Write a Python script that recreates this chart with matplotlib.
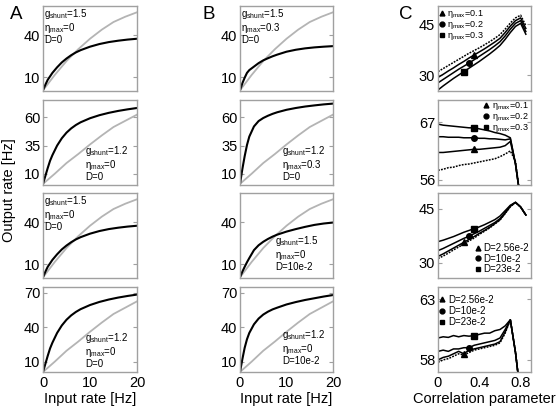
"""
Output rate vs input rate / correlation parameter (panels A, B, C)
"""
import matplotlib
matplotlib.use('Agg')
import matplotlib.pyplot as plt
from matplotlib.lines import Line2D
import numpy as np

plt.rcParams['font.family'] = ['Liberation Sans', 'DejaVu Sans']
plt.rcParams['mathtext.fontset'] = 'custom'
plt.rcParams['mathtext.rm'] = 'Liberation Sans'
plt.rcParams['mathtext.it'] = 'Liberation Sans'
plt.rcParams['mathtext.default'] = 'regular'

# ---- data: panels A and B (output rate vs input rate) ----
x_black = [0, 0.5, 1, 1.5, 2, 3, 4, 5, 6, 7, 8, 10, 12, 14, 16, 18, 20]
x_gray = [0, 2.5, 5, 7.5, 10, 12.5, 15, 17.5, 20]

gray_g15 = [0.5, 11.5, 21.5, 30, 37.5, 44, 49.5, 53.3, 56.5]
gray_g12 = [1, 10, 19.5, 27.5, 36, 44, 51.5, 57, 62.5]

black_g15_eta0_D0 = [0.5, 4.5, 8, 10.5, 13, 17, 20.5, 23.3, 25.7, 27.7, 29.3, 31.8, 33.7, 35.1, 36.1, 36.9, 37.5]
black_g12_eta0_D0 = [1, 8, 15, 21.5, 26.5, 35, 41.5, 46.5, 50.3, 53.3, 55.7, 59.3, 62, 64.1, 65.8, 67.2, 68.4]
black_g15_eta03 = [0.5, 5.5, 9.5, 13, 15, 17.5, 20, 22, 23.5, 24.9, 26.1, 28.2, 29.6, 30.6, 31.3, 31.8, 32.2]
black_g12_eta03 = [1, 14, 25.5, 35.5, 43, 52, 56.8, 59.5, 61.5, 63.2, 64.6, 66.8, 68.4, 69.7, 70.7, 71.6, 72.3]
black_g15_D10 = [0.5, 4.5, 8, 11.3, 14.3, 20, 23.5, 26, 28, 29.7, 31.1, 33.3, 35.1, 36.7, 38.1, 39.1, 39.8]
black_g12_D10 = [1, 12, 22, 29.5, 35, 42.5, 47.5, 51, 53.5, 55.5, 57, 59.8, 61.9, 63.7, 65.2, 66.7, 68]

# ---- data: panel C (output rate vs correlation parameter) ----
corr = [0, 0.05, 0.1, 0.15, 0.2, 0.25, 0.3, 0.35, 0.4, 0.45, 0.5, 0.55, 0.6, 0.65, 0.7, 0.75, 0.8, 0.85]

# C1: eta_max variation (g_shunt=1.5)
c1_eta0 = [31.0, 31.9, 32.8, 33.7, 34.6, 35.5, 36.4, 37.2, 38.0, 38.9, 39.8, 40.8, 41.9, 43.5, 45.3, 46.8, 47.6, 44.5]
c1_eta01 = [29.3, 30.2, 31.2, 32.1, 33.1, 34.0, 35.0, 35.9, 36.8, 37.7, 38.7, 39.7, 40.8, 42.5, 44.4, 46.0, 46.8, 43.7]
c1_eta02 = [27.7, 28.7, 29.7, 30.7, 31.7, 32.6, 33.5, 34.5, 35.5, 36.5, 37.5, 38.6, 39.8, 41.5, 43.5, 45.2, 46.0, 42.8]
c1_eta03 = [25.6, 26.8, 27.9, 29.0, 30.0, 31.0, 32.0, 33.0, 34.0, 35.1, 36.2, 37.4, 38.7, 40.5, 42.5, 44.3, 45.2, 42.0]

# C2: eta_max variation (g_shunt=1.2)
c2_eta0 = [57.8, 58.0, 58.3, 58.4, 58.7, 58.9, 59.0, 59.2, 59.4, 59.6, 59.8, 60.0, 60.4, 60.9, 61.5, 59.5, 52.0, 48.0]
c2_eta01 = [61.2, 61.2, 61.3, 61.4, 61.5, 61.6, 61.7, 61.8, 61.8, 61.9, 62.0, 62.1, 62.2, 62.5, 63.3, 59.0, 52.0, 48.0]
c2_eta02 = [64.2, 64.2, 64.1, 64.1, 64.1, 64.0, 64.0, 64.0, 63.9, 63.9, 63.8, 63.8, 63.7, 63.6, 63.8, 59.0, 52.0, 48.0]
c2_eta03 = [66.6, 66.4, 66.3, 66.2, 66.1, 66.0, 65.9, 65.9, 65.7, 65.5, 65.3, 65.0, 64.8, 64.5, 64.0, 59.0, 52.0, 48.0]

# C3: D variation (g_shunt=1.5)
c3_D0 = [31.2, 31.9, 32.7, 33.6, 34.4, 35.2, 36.1, 36.9, 37.9, 38.8, 39.7, 40.8, 41.9, 43.7, 45.6, 46.8, 45.5, 43.3]
c3_D256 = [31.8, 32.5, 33.3, 34.1, 34.9, 35.7, 36.5, 37.3, 38.2, 39.0, 39.9, 40.9, 42.0, 43.8, 45.7, 46.8, 45.5, 43.3]
c3_D10 = [33.4, 34.0, 34.7, 35.4, 36.1, 36.8, 37.4, 38.1, 38.8, 39.6, 40.4, 41.2, 42.3, 44.0, 45.8, 46.8, 45.5, 43.3]
c3_D23 = [35.9, 36.3, 36.8, 37.3, 37.9, 38.5, 39.0, 39.5, 40.0, 40.6, 41.3, 42.0, 43.0, 44.5, 46.0, 46.8, 45.5, 43.3]

# C4: D variation (g_shunt=1.2)
c4_D0 = [57.8, 58.0, 58.1, 58.3, 58.5, 58.4, 58.6, 58.8, 58.9, 59.0, 59.1, 59.2, 59.4, 60.2, 61.3, 58.6, 55.0, 53.0]
c4_D256 = [58.0, 58.2, 58.3, 58.5, 58.7, 58.5, 58.8, 58.9, 59.0, 59.1, 59.2, 59.3, 59.5, 60.3, 61.3, 58.6, 55.0, 53.0]
c4_D10 = [58.7, 58.8, 58.7, 58.9, 58.9, 59.0, 59.0, 59.2, 59.3, 59.4, 59.5, 59.6, 59.8, 60.5, 61.3, 58.6, 55.0, 53.0]
c4_D23 = [59.8, 59.9, 59.85, 60.0, 59.9, 60.0, 59.95, 60.0, 60.1, 60.2, 60.2, 60.4, 60.5, 60.8, 61.3, 58.6, 55.0, 53.0]

W, H = 559, 408
fig = plt.figure(figsize=(W / 100, H / 100), dpi=100)

col_left = [43, 240, 438]
col_width = [94, 93, 93]
row_top = [6, 100, 193, 287]
row_height = 85

SPINE = '#a0a0a0'


def make_ax(col, row):
    l = col_left[col] / W
    b = 1 - (row_top[row] + row_height) / H
    ax = fig.add_axes([l, b, col_width[col] / W, row_height / H])
    for s in ax.spines.values():
        s.set_color(SPINE)
        s.set_linewidth(1.0)
    ax.tick_params(axis='y', direction='in', length=3, color=SPINE, left=True, right=True,
                   labelsize=10.5, pad=2)
    ax.tick_params(axis='x', length=0, labelsize=10.5, pad=3)
    return ax


def params_text(g, eta, D):
    return '$g_{shunt}$=%s\n$\\eta_{max}$=%s\nD=%s' % (g, eta, D)


# panels A and B
ab_panels = [
    # col, row, black, gray, ylim, yticks, text, text x, text y, va
    (0, 0, black_g15_eta0_D0, gray_g15, (0, 61), [10, 40], ('1.5', '0', '0'), 0.01, 0.99, 'top'),
    (0, 1, black_g12_eta0_D0, gray_g12, (0, 75.5), [10, 35, 60], ('1.2', '0', '0'), 0.45, 0.04, 'bottom'),
    (0, 2, black_g15_eta0_D0, gray_g15, (0, 61), [10, 40], ('1.5', '0', '0'), 0.01, 0.99, 'top'),
    (0, 3, black_g12_eta0_D0, gray_g12, (1, 75), [10, 40, 70], ('1.2', '0', '0'), 0.45, 0.04, 'bottom'),
    (1, 0, black_g15_eta03, gray_g15, (0, 61), [10, 40], ('1.5', '0.3', '0'), 0.01, 0.99, 'top'),
    (1, 1, black_g12_eta03, gray_g12, (0, 75.5), [10, 35, 60], ('1.2', '0.3', '0'), 0.45, 0.04, 'bottom'),
    (1, 2, black_g15_D10, gray_g15, (0, 61), [10, 40], ('1.5', '0', '10e-2'), 0.38, 0.07, 'bottom'),
    (1, 3, black_g12_D10, gray_g12, (1, 75), [10, 40, 70], ('1.2', '0', '10e-2'), 0.45, 0.07, 'bottom'),
]

for col, row, blk, gry, ylim, yt, txt, tx, ty, va in ab_panels:
    ax = make_ax(col, row)
    ax.plot(x_gray, gry, color='#b4b4b4', lw=1.3)
    ax.plot(x_black, blk, color='black', lw=1.5)
    ax.set_xlim(0, 20)
    ax.set_ylim(*ylim)
    ax.set_yticks(yt)
    ax.set_xticks([0, 10, 20])
    if row < 3:
        ax.set_xticklabels([])
    else:
        ax.set_xlabel('Input rate [Hz]', fontsize=10.5, labelpad=1)
    ax.text(tx, ty, params_text(*txt), transform=ax.transAxes, fontsize=7,
            ha='left', va=va, linespacing=1.0)

# panel C: row, series, ylim, yticks, markers (symbol, index into corr), labels, legend loc/anchor/spacing/size
eta_labels = ['$\\eta_{max}$=0.1', '$\\eta_{max}$=0.2', '$\\eta_{max}$=0.3']
D_labels = ['D=2.56e-2', 'D=10e-2', 'D=23e-2']
c_panels = [
    (0, [c1_eta0, c1_eta01, c1_eta02, c1_eta03], (25.3, 50.3), [30, 45],
     [None, ('^', 7), ('o', 6), ('s', 5)], eta_labels, 'upper left', (-0.01, 1.0), -0.1, 6.5),
    (1, [c2_eta0, c2_eta01, c2_eta02, c2_eta03], (55, 71.2), [56, 67],
     [None, ('^', 7), ('o', 7), ('s', 7)], eta_labels, 'upper right', (0.99, 1.02), -0.1, 6.5),
    (2, [c3_D0, c3_D256, c3_D10, c3_D23], (25.8, 49.4), [30, 45],
     [None, ('^', 5), ('o', 6), ('s', 7)], D_labels, 'lower right', (1.0, 0.02), 0.05, 7),
    (3, [c4_D0, c4_D256, c4_D10, c4_D23], (57, 64), [58, 63],
     [None, ('^', 5), ('o', 6), ('s', 7)], D_labels, 'upper left', (-0.01, 0.93), 0.12, 7),
]

for row, series, ylim, yt, marks, labels, loc, anchor, lspace, lsize in c_panels:
    ax = make_ax(2, row)
    for vals, mk in zip(series, marks):
        if mk is None:
            ax.plot(corr, vals, color='black', lw=1.1, ls=(0, (1.2, 0.8)))
        else:
            ax.plot(corr, vals, color='black', lw=1.1)
            idx = mk[1]
            ax.plot(corr[idx], vals[idx], marker=mk[0], color='black', ms=4, ls='none')
    ax.set_xlim(0, 0.9)
    ax.set_ylim(*ylim)
    ax.set_yticks(yt)
    ax.set_xticks([0, 0.4, 0.8])
    if row < 3:
        ax.set_xticklabels([])
    else:
        ax.set_xticklabels(['0', '0.4', '0.8'])
        ax.set_xlabel('Correlation parameter', fontsize=10.5, labelpad=1)
    handles = [Line2D([], [], marker=m, color='black', ls='none', ms=3.5) for m in ['^', 'o', 's']]
    ax.legend(handles, labels, loc=loc, bbox_to_anchor=anchor, frameon=False, fontsize=lsize,
              handlelength=0.6, handletextpad=0.3, labelspacing=lspace, borderpad=0.1,
              borderaxespad=0.1)

# shared labels and panel letters
fig.text(9 / W, 1 - 190 / H, 'Output rate [Hz]', rotation=90, ha='center', va='center', fontsize=10.5)
for letter, px in zip('ABC', [10, 203, 399]):
    fig.text(px / W, 1 - 6 / H, letter, fontsize=13.5, ha='left', va='top')

plt.savefig('out.png', dpi=100)
plt.close()
